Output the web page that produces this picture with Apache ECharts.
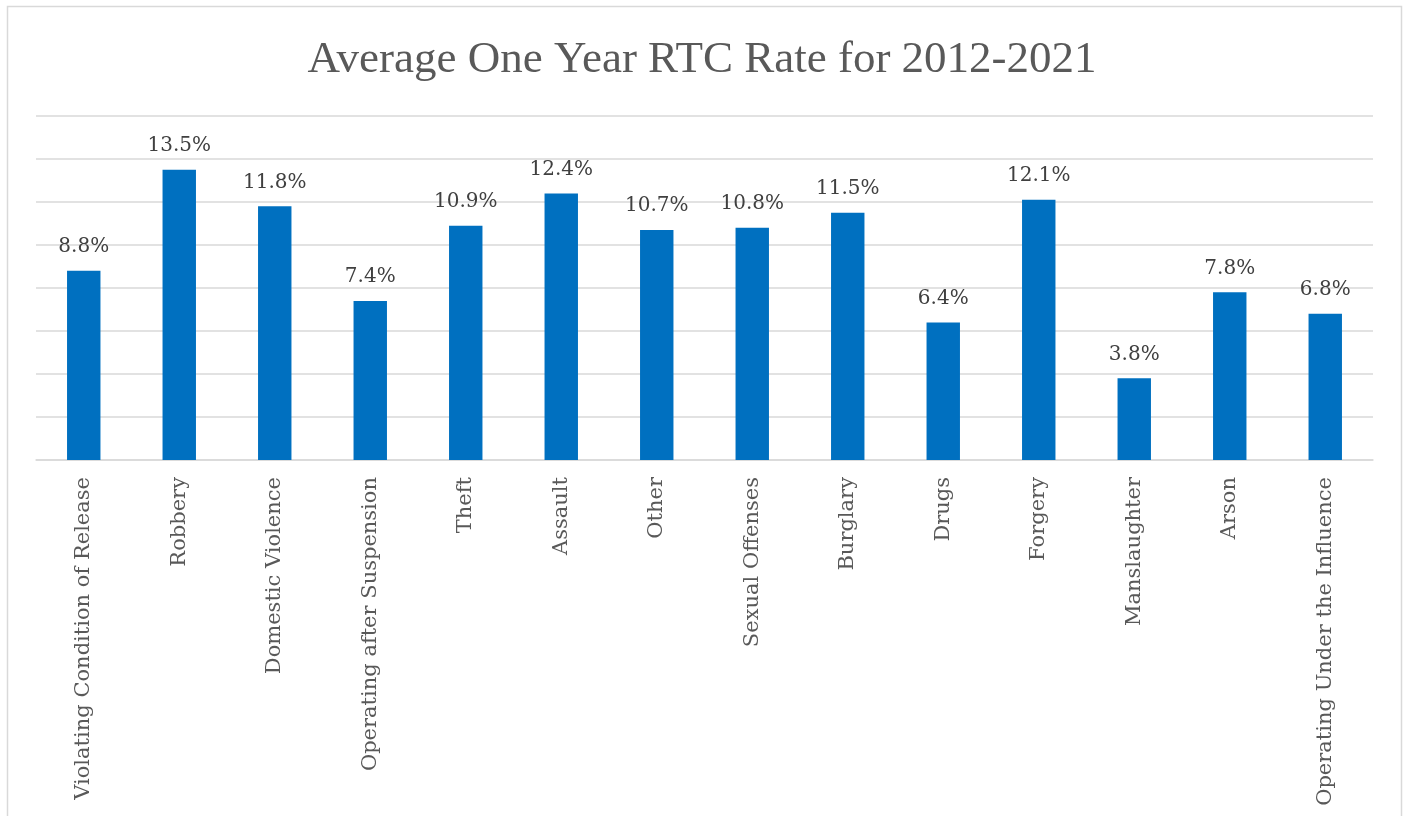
<!DOCTYPE html>
<html>
<head>
<meta charset="utf-8">
<script src="https://cdn.jsdelivr.net/npm/echarts@6/dist/echarts.min.js"></script>
<style>
html,body{margin:0;padding:0;background:#fff;}
#c{width:1404px;height:816px;}
</style>
</head>
<body>
<div id="c"></div>
<script>
const categories = ["Violating Condition of Release","Robbery","Domestic Violence","Operating after Suspension","Theft","Assault","Other","Sexual Offenses","Burglary","Drugs","Forgery","Manslaughter","Arson","Operating Under the Influence"];
const rates = [8.8,13.5,11.8,7.4,10.9,12.4,10.7,10.8,11.5,6.4,12.1,3.8,7.8,6.8];
const titleText = "Average One Year RTC Rate for 2012-2021";

const titleFont = "'Liberation Serif', serif";
const labelFont = "'DejaVu Serif', serif";
const chart = echarts.init(document.getElementById('c'), null, {renderer:'canvas'});
chart.setOption({
  animation:false,
  backgroundColor:'#fff',
  graphic:[{type:'rect',shape:{x:7.5,y:6.5,width:1394,height:830},style:{fill:'none',stroke:'#d9d9d9',lineWidth:1.5},silent:true}],
  title:{text:titleText,left:'center',top:33,textStyle:{fontFamily:titleFont,fontSize:45,fontWeight:'normal',color:'#595959'}},
  grid:{left:36,right:31,top:116,bottom:356,containLabel:false},
  xAxis:{type:'category',data:categories,
    axisLine:{lineStyle:{color:'#d9d9d9',width:1.5}},axisTick:{show:false},
    axisLabel:{rotate:90,interval:0,margin:17,fontFamily:labelFont,fontSize:21,color:'#595959'}},
  yAxis:{type:'value',min:0,max:16,interval:2,axisLabel:{show:false},axisLine:{show:false},axisTick:{show:false},
    splitLine:{lineStyle:{color:'#d9d9d9',width:1.5}}},
  series:[{type:'bar',data:rates,barWidth:'35%',itemStyle:{color:'#0070C0'},
    label:{show:true,position:'top',distance:14,formatter:p=>p.value.toFixed(1)+'%',fontFamily:labelFont,fontSize:20,color:'#404040'}}]
});
</script>
</body>
</html>
